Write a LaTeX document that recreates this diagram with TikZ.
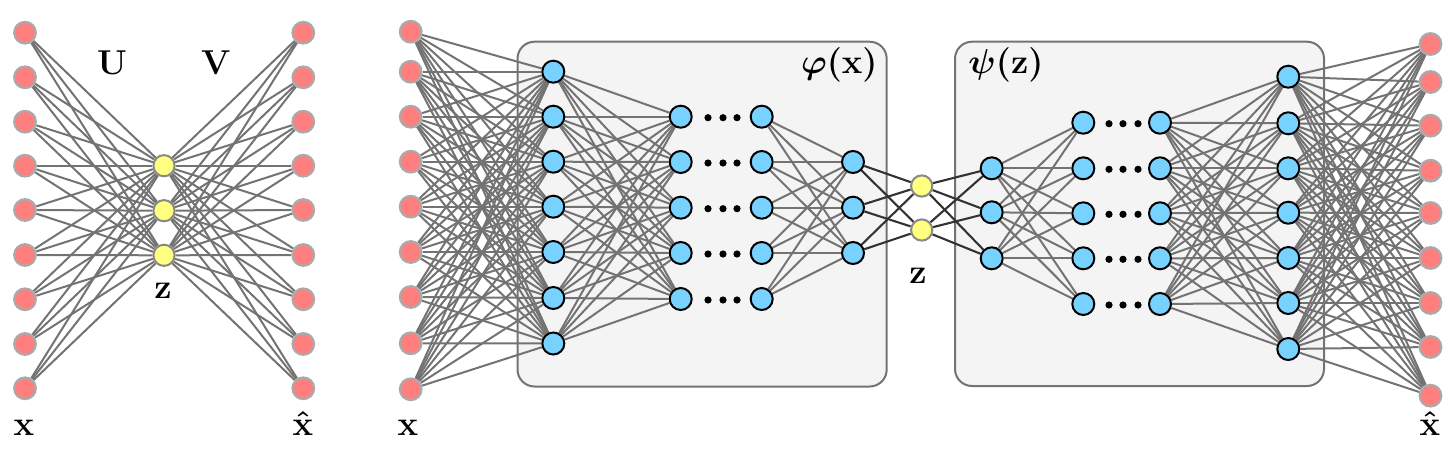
\documentclass[tikz,border=0pt]{standalone}
\usepackage{amsmath}
\usetikzlibrary{backgrounds}
\definecolor{rfill}{RGB}{255,127,127}
\definecolor{rline}{RGB}{170,170,170}
\definecolor{yfill}{RGB}{255,255,128}
\definecolor{yline}{RGB}{136,136,136}
\definecolor{bfill}{RGB}{120,210,255}
\definecolor{edgec}{RGB}{115,115,115}
\definecolor{darke}{RGB}{51,51,51}
\definecolor{boxfill}{RGB}{244,244,244}
\tikzset{
  rnode/.style={circle, fill=rfill, draw=rline, line width=1.1pt, minimum size=10.8pt, inner sep=0pt},
  ynode/.style={circle, fill=yfill, draw=yline, line width=1pt, minimum size=10.6pt, inner sep=0pt},
  bnode/.style={circle, fill=bfill, draw=black, line width=1pt, minimum size=11pt, inner sep=0pt},
  edge/.style={draw=edgec, line width=1pt},
  dedge/.style={draw=darke, line width=1.05pt},
  boxst/.style={draw=edgec, fill=boxfill, line width=1pt, rounded corners=8.5pt},
  lab/.style={font=\fontsize{17.5}{20}\selectfont\boldmath, inner sep=0pt},
  blab/.style={font=\fontsize{17.5}{20}\selectfont\boldmath, inner sep=0pt},
  dotst/.style={fill=black}
}
\begin{document}
\begin{tikzpicture}[x=0.5pt,y=-0.5pt]
\useasboundingbox (0,0) rectangle (1456,450);

% ---------- left network ----------
\foreach \y [count=\i] in {32.7,77.3,121.7,165.7,210,255,299.3,344,388.3} {
  \node[rnode] (lx\i) at (25,\y) {};
  \node[rnode] (lo\i) at (303.3,\y) {};
}
\foreach \y [count=\i] in {165.7,210.7,255.3}
  \node[ynode] (lz\i) at (164,\y) {};

\node[lab, anchor=base] (lU) at (112,74) {$\mathbf{U}$};
\node[lab, anchor=base] (lV) at (216,74) {$\mathbf{V}$};
\node[lab, anchor=base] (lzl) at (163,298) {$\mathbf{z}$};
\node[lab, anchor=base] (lxl) at (24,435) {$\mathbf{x}$};
\node[lab, anchor=base] (lxh) at (303,435) {$\hat{\mathbf{x}}$};

% ---------- right network ----------
\foreach \y [count=\i] in {31.7,71.7,116.7,161.7,206.7,252,297,343.3,389.3}
  \node[rnode] (rx\i) at (410.7,\y) {};
\foreach \y [count=\i] in {44,82,125.7,170.7,213,258,303,347,395.7}
  \node[rnode] (ro\i) at (1430.5,\y) {};

\foreach \y [count=\i] in {71.7,116.7,161.7,206.7,252,298,343.5}
  \node[bnode] (ea\i) at (553.3,\y) {};
\foreach \y [count=\i] in {116.7,162,207.7,253,299} {
  \node[bnode] (eb\i) at (680.7,\y) {};
  \node[bnode] (ec\i) at (761.7,\y) {};
}
\foreach \y [count=\i] in {162,207.7,253}
  \node[bnode] (ed\i) at (853,\y) {};

\foreach \y [count=\i] in {186,230}
  \node[ynode] (rz\i) at (921.7,\y) {};

\foreach \y [count=\i] in {168.3,212.3,258.3}
  \node[bnode] (da\i) at (991.7,\y) {};
\foreach \y [count=\i] in {122.7,168.3,213.3,258.3,304} {
  \node[bnode] (db\i) at (1083.3,\y) {};
  \node[bnode] (dc\i) at (1160,\y) {};
}
\foreach \y [count=\i] in {76.7,123.3,168.3,212.7,258,303,349}
  \node[bnode] (dd\i) at (1288.3,\y) {};

% dots
\foreach \y in {116.7,162,207.7,253,299}
  \foreach \x in {708,723,737}
    \fill[dotst] (\x,{\y+1}) circle (3.6);
\foreach \y in {122.7,168.3,213.3,258.3,304}
  \foreach \x in {1109,1123,1138}
    \fill[dotst] (\x,{\y+1}) circle (3.6);

\node[blab, anchor=base east] (phil) at (878,73) {$\varphi(\mathbf{x})$};
\node[blab, anchor=base west] (psil) at (968,73) {$\psi(\mathbf{z})$};
\node[lab, anchor=base] (rzl) at (918,283) {$\mathbf{z}$};
\node[lab, anchor=base] (rxl) at (408,435) {$\mathbf{x}$};
\node[lab, anchor=base] (rxh) at (1430,435) {$\hat{\mathbf{x}}$};

% ---------- boxes and edges behind ----------
\begin{pgfonlayer}{background}
  \draw[boxst] (517.5,41.7) rectangle (886.7,386.5);
  \draw[boxst] (955,41.7) rectangle (1324,386);

  \foreach \i in {1,...,9}
    \foreach \j in {1,2,3} {
      \draw[edge] (lx\i) -- (lz\j);
      \draw[edge] (lz\j) -- (lo\i);
    }

  \foreach \i in {1,...,9}
    \foreach \j in {1,...,7} {
      \draw[edge] (rx\i) -- (ea\j);
      \draw[edge] (dd\j) -- (ro\i);
    }
  \foreach \i in {1,...,7}
    \foreach \j in {1,...,5} {
      \draw[edge] (ea\i) -- (eb\j);
      \draw[edge] (dc\j) -- (dd\i);
    }
  \foreach \i in {1,...,5}
    \foreach \j in {1,2,3} {
      \draw[edge] (ec\i) -- (ed\j);
      \draw[edge] (da\j) -- (db\i);
    }
  \foreach \i in {1,2,3}
    \foreach \j in {1,2} {
      \draw[dedge] (ed\i) -- (rz\j);
      \draw[dedge] (rz\j) -- (da\i);
    }
\end{pgfonlayer}
\end{tikzpicture}
\end{document}
